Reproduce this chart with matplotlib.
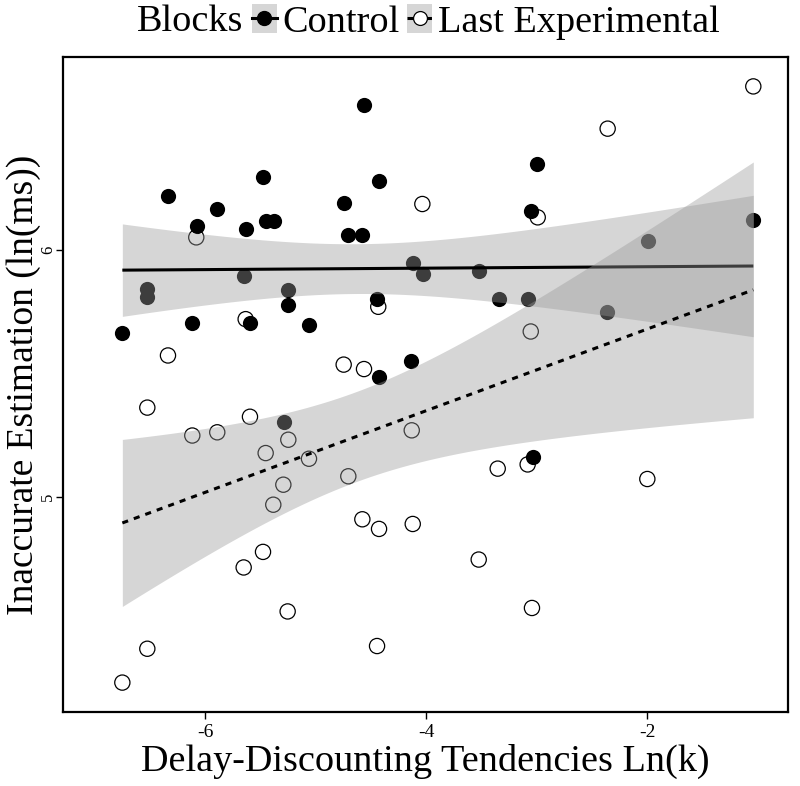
import numpy as np
import matplotlib.pyplot as plt
from matplotlib.lines import Line2D
from matplotlib.patches import Patch

plt.rcParams['font.family'] = ['Liberation Serif', 'DejaVu Serif']
plt.rcParams['axes.unicode_minus'] = False

# Control block: delay-discounting ln(k) vs inaccurate estimation ln(ms)
ctrl_x = [-4.561, -5.475, -4.425, -6.338, -4.742, -5.891, -6.075, -5.445, -5.373,
          -5.626, -4.706, -4.576, -4.120, -4.030, -5.647, -6.522, -6.522, -5.249,
          -5.249, -4.441, -6.118, -5.590, -5.062, -6.748, -4.133, -4.428, -5.288,
          -2.993, -3.050, -1.038, -1.994, -3.520, -3.342, -3.077, -2.359, -3.034]
ctrl_y = [6.588, 6.295, 6.279, 6.218, 6.191, 6.164, 6.097, 6.116, 6.117,
          6.084, 6.059, 6.062, 5.946, 5.902, 5.896, 5.843, 5.809, 5.837,
          5.777, 5.801, 5.705, 5.704, 5.696, 5.664, 5.551, 5.487, 5.304,
          6.346, 6.156, 6.121, 6.038, 5.915, 5.803, 5.803, 5.748, 5.161]

# Last experimental block
exp_x = [-6.079, -4.033, -5.632, -4.432, -6.335, -4.745, -4.561, -1.038, -2.356,
         -2.989, -3.052, -6.522, -5.593, -6.115, -5.889, -5.246, -5.451, -5.059,
         -4.129, -4.703, -5.291, -5.382, -4.576, -4.425, -4.120, -5.475, -5.650,
         -5.252, -6.522, -4.443, -6.748, -3.351, -3.080, -1.997, -3.523, -3.041]
exp_y = [6.051, 6.186, 5.720, 5.770, 5.573, 5.536, 5.518, 6.662, 6.491,
         6.132, 5.670, 5.362, 5.325, 5.249, 5.262, 5.232, 5.178, 5.155,
         5.270, 5.084, 5.050, 4.969, 4.910, 4.871, 4.891, 4.778, 4.715,
         4.537, 4.386, 4.397, 4.249, 5.115, 5.132, 5.073, 4.747, 4.551]

x_ticks = [-6, -4, -2]
y_ticks = [5, 6]


def lm_band(x, y, t_crit=2.032):
    """Linear fit with 95% confidence band (like geom_smooth(method='lm'))."""
    x = np.asarray(x)
    y = np.asarray(y)
    n = len(x)
    slope, icpt = np.polyfit(x, y, 1)
    grid = np.linspace(x.min(), x.max(), 100)
    fit = icpt + slope * grid
    resid = y - (icpt + slope * x)
    s = np.sqrt(np.sum(resid ** 2) / (n - 2))
    se = s * np.sqrt(1 / n + (grid - x.mean()) ** 2 / np.sum((x - x.mean()) ** 2))
    return grid, fit, fit - t_crit * se, fit + t_crit * se


fig = plt.figure(figsize=(8, 7.86), dpi=100)
ax = fig.add_axes([63 / 800, 1 - 712 / 786, 725 / 800, 655 / 786])

# Points first, smooths drawn on top (as in the original)
ax.scatter(exp_x, exp_y, s=120, facecolors='none', edgecolors='black',
           linewidths=0.9, zorder=2)
ax.scatter(ctrl_x, ctrl_y, s=120, color='black', linewidths=0, zorder=2)

band_fill = '#999999'
gx, gfit, glo, ghi = lm_band(ctrl_x, ctrl_y)
ax.fill_between(gx, glo, ghi, color=band_fill, alpha=0.4, linewidth=0, zorder=3)
ax.plot(gx, gfit, color='black', lw=2.2, solid_capstyle='butt', zorder=4)

gx, gfit, glo, ghi = lm_band(exp_x, exp_y)
ax.fill_between(gx, glo, ghi, color=band_fill, alpha=0.4, linewidth=0, zorder=5)
ax.plot(gx, gfit, color='black', lw=2.2, linestyle=(0, (2, 2)), zorder=6)

ax.set_xlim(-7.285, -0.724)
ax.set_ylim(4.13, 6.781)
ax.set_xticks(x_ticks)
ax.set_yticks(y_ticks)
ax.tick_params(labelsize=14, length=5, width=1, colors='black')
ax.tick_params(axis='y', labelsize=12, labelrotation=90, pad=0)
for lbl in ax.get_yticklabels():
    lbl.set_va('center')
for sp in ax.spines.values():
    sp.set_linewidth(1.6)

ax.set_xlabel('Delay-Discounting Tendencies Ln(k)', fontsize=27.5, labelpad=2)
ax.set_ylabel('Inaccurate Estimation (ln(ms))', fontsize=27, va='baseline')
ax.yaxis.set_label_coords(-30 / 725, 0.5)

# Legend on top
key_fill = Patch(facecolor='#d6d6d6', edgecolor='none')
ctrl_key = Line2D([], [], color='black', lw=2.2, marker='o', markersize=10,
                  markerfacecolor='black', markeredgecolor='black')
exp_key = Line2D([], [], color='black', lw=2.2, linestyle=(0, (2, 1)), marker='o',
                 markersize=10, markerfacecolor='white', markeredgecolor='black',
                 markeredgewidth=0.9)
fig.text(243 / 800, 1 - 22 / 786, 'Blocks', fontsize=27.5, ha='right', va='center')
fig.legend([(key_fill, ctrl_key), (key_fill, exp_key)], ['Control', 'Last Experimental'],
           loc='center left', bbox_to_anchor=(252 / 800, 1 - 22 / 786), ncol=2,
           frameon=False, fontsize=27.5, borderpad=0, borderaxespad=0,
           handlelength=0.65, handleheight=0.8, handletextpad=0.15, columnspacing=0.2)

fig.savefig('out.png', dpi=100)
